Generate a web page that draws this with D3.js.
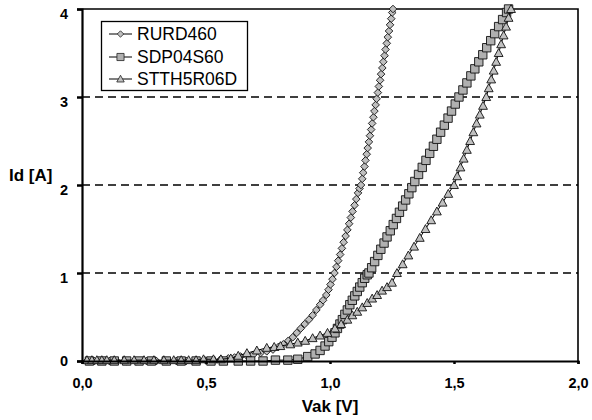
<!DOCTYPE html>
<html><head><meta charset="utf-8">
<script src="https://cdn.jsdelivr.net/npm/d3@7"></script>
<style>
body{margin:0;background:#fff;}
svg{display:block;font-family:"Liberation Sans",Arial,sans-serif;}
</style></head>
<body><svg id="c" width="592" height="420"></svg>
<script>
// ---------- data ----------
const seriesNames = ["RURD460", "SDP04S60", "STTH5R06D"];
const xTicks = [0, 0.5, 1.0, 1.5, 2.0];
const yTicks = [0, 1, 2, 3, 4];
const xTickLabels = ["0,0", "0,5", "1,0", "1,5", "2,0"];
const yTickLabels = ["0", "1", "2", "3", "4"];

const rurdV = [0.02,0.05,0.08,0.11,0.14,0.18,0.22,0.26,0.30,0.34,0.38,0.42,0.46,0.50,0.53,0.56,0.59,0.615,0.64,0.665,0.69,0.72,0.745,0.77,0.792,0.812,0.832,0.850,0.866,0.882,0.898,0.915,0.930,0.945,0.960,0.972,0.985,0.994,1.002,1.010,1.018,1.026,1.033,1.041,1.048,1.055,1.063,1.070,1.077,1.084,1.091,1.099,1.106,1.113,1.119,1.125,1.130,1.134,1.139,1.143,1.148,1.152,1.157,1.161,1.166,1.170,1.175,1.179,1.184,1.188,1.193,1.197,1.202,1.206,1.211,1.215,1.220,1.224,1.229,1.233,1.238,1.242,1.247,1.251,1.254];
const rurdI = [0,0,0,0,0,0,0,0,0,0,0,0,0,0.005,0.01,0.02,0.03,0.04,0.05,0.06,0.07,0.09,0.11,0.13,0.16,0.19,0.23,0.27,0.32,0.37,0.42,0.47,0.52,0.58,0.64,0.69,0.75,0.81,0.87,0.93,1.00,1.07,1.14,1.21,1.28,1.35,1.42,1.49,1.56,1.63,1.70,1.77,1.84,1.91,1.96,2.00,2.07,2.14,2.21,2.28,2.35,2.42,2.49,2.56,2.63,2.70,2.77,2.84,2.91,2.98,3.05,3.12,3.19,3.26,3.33,3.40,3.47,3.54,3.61,3.68,3.75,3.82,3.89,3.96,4.00];

const sdpV = [0.03,0.08,0.13,0.18,0.23,0.28,0.34,0.40,0.46,0.52,0.57,0.63,0.68,0.73,0.78,0.83,0.87,0.91,0.94,0.96,0.98,0.995,1.008,1.02,1.03,1.04,1.05,1.06,1.07,1.08,1.09,1.10,1.11,1.12,1.13,1.14,1.15,1.157,1.168,1.180,1.193,1.205,1.218,1.230,1.243,1.255,1.268,1.280,1.293,1.305,1.318,1.330,1.342,1.357,1.372,1.387,1.402,1.417,1.431,1.446,1.461,1.476,1.490,1.505,1.520,1.536,1.552,1.568,1.584,1.600,1.616,1.632,1.648,1.664,1.680,1.696,1.712,1.720];
const sdpI = [0,0,0,0,0,0,0,0,0,0,0,0,0,0,0.01,0.01,0.02,0.05,0.08,0.12,0.17,0.22,0.27,0.32,0.37,0.42,0.47,0.53,0.58,0.64,0.69,0.74,0.79,0.84,0.89,0.94,0.98,1.00,1.06,1.13,1.20,1.27,1.34,1.41,1.48,1.55,1.62,1.69,1.76,1.83,1.90,1.97,2.04,2.12,2.20,2.28,2.36,2.44,2.52,2.60,2.68,2.76,2.84,2.92,3.00,3.08,3.16,3.24,3.32,3.40,3.48,3.56,3.64,3.72,3.80,3.88,3.96,4.00];

const stthV = [0.02,0.04,0.06,0.08,0.10,0.13,0.17,0.21,0.25,0.29,0.33,0.37,0.40,0.43,0.46,0.49,0.53,0.56,0.60,0.63,0.665,0.705,0.745,0.775,0.80,0.84,0.87,0.90,0.93,0.96,0.99,1.02,1.045,1.07,1.09,1.11,1.13,1.15,1.17,1.19,1.21,1.23,1.25,1.27,1.293,1.316,1.339,1.362,1.385,1.408,1.431,1.454,1.477,1.500,1.513,1.526,1.539,1.552,1.565,1.578,1.591,1.604,1.617,1.630,1.640,1.650,1.660,1.670,1.680,1.690,1.700,1.710,1.720,1.730];
const stthI = [0.01,0.01,0.01,0.01,0.01,0.01,0.01,0.01,0.01,0.01,0.01,0.01,0.01,0.01,0.01,0.02,0.02,0.02,0.03,0.06,0.09,0.12,0.15,0.16,0.17,0.19,0.21,0.23,0.26,0.29,0.32,0.37,0.42,0.47,0.52,0.56,0.61,0.66,0.71,0.75,0.80,0.84,0.89,1.00,1.10,1.20,1.30,1.40,1.50,1.60,1.70,1.80,1.90,2.00,2.10,2.20,2.30,2.40,2.50,2.60,2.70,2.80,2.90,3.00,3.10,3.20,3.30,3.40,3.50,3.60,3.70,3.80,3.90,4.00];

// ---------- layout ----------
const svg = d3.select("#c");
const L = 82, R = 578, T = 9, B = 361;
const x = d3.scaleLinear().domain([0, 2]).range([L, R]);
const y = d3.scaleLinear().domain([0, 4]).range([B, T]);

// marker shapes
const shapes = {
  diamond: s => `M0,${-s}L${s},0L0,${s}L${-s},0Z`,
  square: s => `M${-s},${-s}H${s}V${s}H${-s}Z`,
  triangle: s => `M0,${-s}L${s},${s*0.8}H${-s}Z`
};
const styles = [
  {shape: "diamond", size: 3.8, fill: "#bfbfbf"},
  {shape: "square", size: 4.2, fill: "#b0b0b0"},
  {shape: "triangle", size: 4.4, fill: "#c0c0c0"}
];
const series = [
  {name: seriesNames[0], pts: rurdV.map((v, i) => [v, rurdI[i]])},
  {name: seriesNames[1], pts: sdpV.map((v, i) => [v, sdpI[i]])},
  {name: seriesNames[2], pts: stthV.map((v, i) => [v, stthI[i]])}
];

// gridlines (dashed)
svg.append("g").selectAll("line").data(yTicks.filter(t => t > 0 && t < 4)).join("line")
  .attr("x1", L).attr("x2", R).attr("y1", d => y(d)).attr("y2", d => y(d))
  .attr("stroke", "#000").attr("stroke-width", 1.4).attr("stroke-dasharray", "8,5");

// frame top/right
svg.append("path").attr("d", `M${L},${T}H${R}V${B}`).attr("fill", "none")
  .attr("stroke", "#000").attr("stroke-width", 1.6);

// series
series.forEach((s, k) => {
  const g = svg.append("g");
  g.append("path").datum(s.pts)
    .attr("d", d3.line().x(d => x(d[0])).y(d => y(d[1])))
    .attr("fill", "none").attr("stroke", "#000").attr("stroke-width", 1);
  g.selectAll("path.m").data(s.pts).join("path").attr("class", "m")
    .attr("transform", d => `translate(${x(d[0])},${y(d[1])})`)
    .attr("d", shapes[styles[k].shape](styles[k].size))
    .attr("fill", styles[k].fill).attr("stroke", "#111").attr("stroke-width", 0.9);
});

// axes
const yAxis = svg.append("g").attr("transform", `translate(${L},0)`)
  .call(d3.axisLeft(y).tickValues(yTicks).tickSize(5).tickPadding(9)
    .tickFormat((d, i) => yTickLabels[i]));
yAxis.select(".domain").attr("stroke-width", 2.2);
yAxis.selectAll(".tick line").attr("stroke-width", 2.5);
yAxis.selectAll(".tick text").attr("font-size", 14.5).attr("font-weight", "bold")
  .attr("font-family", "Liberation Sans, Arial, sans-serif").attr("fill", "#000")
  .attr("dy", d => d === 0 ? "0.3em" : "0.62em");

const xAxis = svg.append("g").attr("transform", `translate(0,${B})`)
  .call(d3.axisBottom(x).tickValues(xTicks).tickSize(3).tickPadding(14)
    .tickFormat((d, i) => xTickLabels[i]));
xAxis.select(".domain").attr("stroke-width", 2.2);
xAxis.selectAll(".tick line").attr("stroke-width", 2.5);
xAxis.selectAll(".tick text").attr("font-size", 14.5).attr("font-weight", "bold")
  .attr("font-family", "Liberation Sans, Arial, sans-serif").attr("fill", "#000");

// axis titles
svg.append("text").attr("x", 330).attr("y", 412).attr("text-anchor", "middle")
  .attr("font-size", 17).attr("font-weight", "bold").text("Vak [V]");
svg.append("text").attr("x", 9).attr("y", 181)
  .attr("font-size", 17).attr("font-weight", "bold").text("Id [A]");

// legend
const lg = svg.append("g");
lg.append("rect").attr("x", 101.5).attr("y", 21.5).attr("width", 146).attr("height", 69)
  .attr("fill", "#fff").attr("stroke", "#000").attr("stroke-width", 1.3);
const rowY = [34, 57, 79];
series.forEach((s, k) => {
  lg.append("line").attr("x1", 109).attr("x2", 132).attr("y1", rowY[k]).attr("y2", rowY[k])
    .attr("stroke", "#000").attr("stroke-width", 1);
  lg.append("path").attr("transform", `translate(120.5,${rowY[k]})`)
    .attr("d", shapes[styles[k].shape](styles[k].size * 0.85))
    .attr("fill", styles[k].fill).attr("stroke", "#222").attr("stroke-width", 0.8);
  lg.append("text").attr("x", 137).attr("y", rowY[k] + 6.3)
    .attr("font-size", 17.5).text(s.name);
});
</script></body></html>
